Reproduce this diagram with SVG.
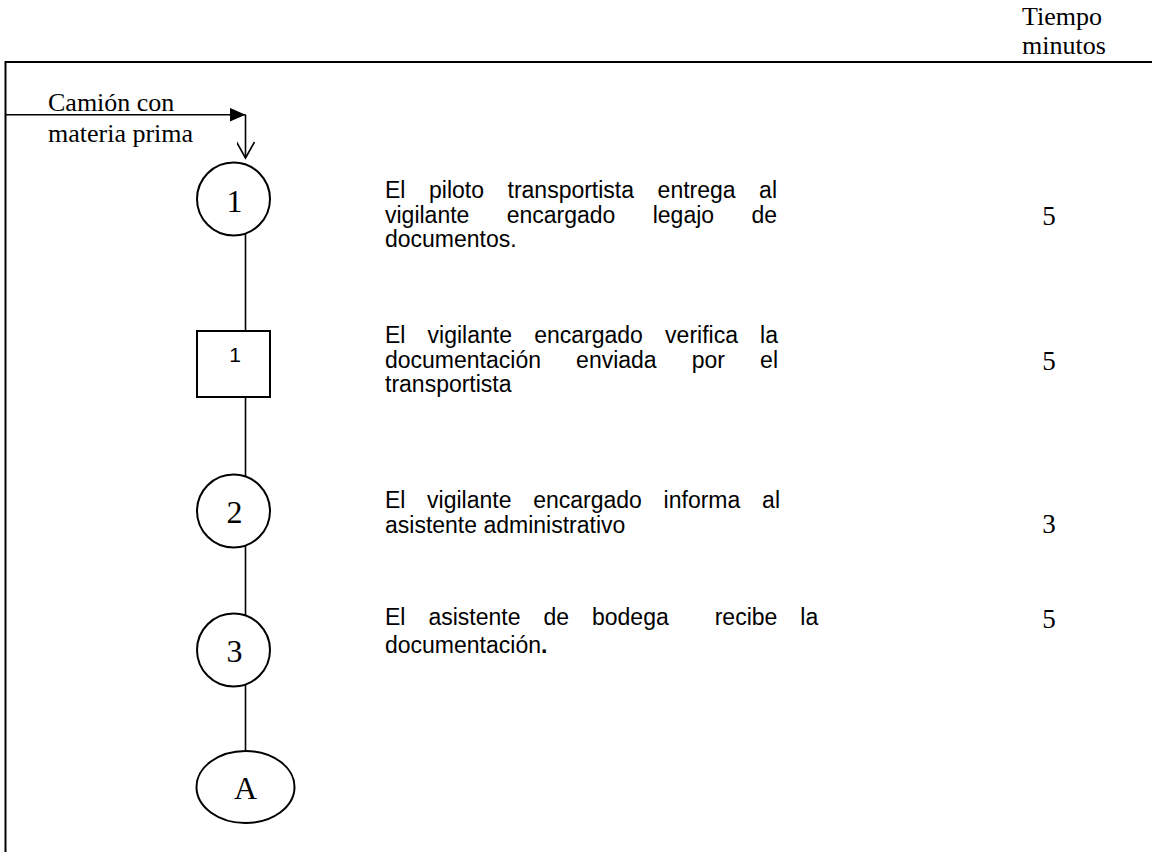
<svg xmlns="http://www.w3.org/2000/svg" width="1152" height="852" viewBox="0 0 1152 852">
  <style>
    .frame { fill: none; stroke: #000; stroke-width: 2; }
    .shape { fill: #fff; stroke: #000; stroke-width: 2; }
    .conn { fill: none; stroke: #000; stroke-width: 1.6; }
    .serif { font-family: "Liberation Serif", "Times New Roman", serif; fill: #000; }
    .lbl { font-size: 26px; }
    .num { font-size: 32px; text-anchor: middle; }
    .min { font-size: 27px; text-anchor: middle; }
    .desc { font-family: "Liberation Sans", Arial, sans-serif; font-size: 23px; fill: #000; }
    .sq { font-family: "Liberation Sans", Arial, sans-serif; font-size: 21px; fill: #000; text-anchor: middle; }
  </style>
  <defs>
    <marker id="solidHead" viewBox="0 0 16 14" refX="16" refY="7" markerWidth="16" markerHeight="14" markerUnits="userSpaceOnUse" orient="auto">
      <path d="M0,0 L16,7 L0,14 Z" fill="#000"/>
    </marker>
    <marker id="openHead" viewBox="0 0 20 18" refX="18" refY="9" markerWidth="20" markerHeight="18" markerUnits="userSpaceOnUse" orient="auto">
      <path d="M2,0 L18,9 L2,18" fill="none" stroke="#000" stroke-width="1.6"/>
    </marker>
  </defs>

  <rect width="1152" height="852" fill="#fff"/>

  <!-- page frame -->
  <path class="frame" d="M5.5,852 V62 H1152"/>

  <!-- column header -->
  <g id="header">
    <text class="serif lbl" x="1022" y="25">Tiempo</text>
    <text class="serif lbl" x="1022" y="54">minutos</text>
  </g>

  <!-- incoming material label -->
  <g id="entrada">
    <text class="serif lbl" x="48" y="111">Camión con</text>
    <text class="serif lbl" x="48" y="142">materia prima</text>
  </g>

  <!-- connectors -->
  <g id="connectors">
    <path class="conn" d="M5,114.7 H245.5" marker-end="url(#solidHead)"/>
    <path class="conn" d="M245.5,114.7 V158" marker-end="url(#openHead)"/>
    <line class="conn" x1="245.5" y1="233.6" x2="245.5" y2="331"/>
    <line class="conn" x1="245.5" y1="397" x2="245.5" y2="476.4"/>
    <line class="conn" x1="245.5" y1="545.6" x2="245.5" y2="615.4"/>
    <line class="conn" x1="245.5" y1="684.6" x2="245.5" y2="751"/>
  </g>

  <!-- operation 1 -->
  <g id="op1">
    <circle class="shape" cx="233.5" cy="199" r="36.5"/>
    <text class="serif num" x="234.5" y="212">1</text>
  </g>

  <!-- inspection 1 -->
  <g id="insp1">
    <rect class="shape" x="197" y="331" width="73" height="66"/>
    <text class="sq" x="235" y="362">1</text>
  </g>

  <!-- operation 2 -->
  <g id="op2">
    <circle class="shape" cx="233.5" cy="511" r="36.5"/>
    <text class="serif num" x="234.5" y="523">2</text>
  </g>

  <!-- operation 3 -->
  <g id="op3">
    <circle class="shape" cx="233.5" cy="650" r="36.5"/>
    <text class="serif num" x="234.5" y="662">3</text>
  </g>

  <!-- connector A -->
  <g id="conA">
    <ellipse class="shape" cx="245.5" cy="787" rx="49" ry="36"/>
    <text class="serif num" x="245.5" y="799">A</text>
  </g>

  <!-- step descriptions (justified word by word) -->
  <g id="desc1" class="desc">
    <text y="198"><tspan x="385">El</tspan><tspan x="429">piloto</tspan><tspan x="507.5">transportista</tspan><tspan x="657.6">entrega</tspan><tspan x="759.1">al</tspan></text>
    <text y="223"><tspan x="385">vigilante</tspan><tspan x="506.7">encargado</tspan><tspan x="652.7">legajo</tspan><tspan x="751.4">de</tspan></text>
    <text x="385" y="247">documentos.</text>
  </g>
  <g id="desc2" class="desc">
    <text y="343"><tspan x="385">El</tspan><tspan x="427.6">vigilante</tspan><tspan x="534.2">encargado</tspan><tspan x="665.1">verifica</tspan><tspan x="760.1">la</tspan></text>
    <text y="367.5"><tspan x="385">documentación</tspan><tspan x="576.1">enviada</tspan><tspan x="691.7">por</tspan><tspan x="760.1">el</tspan></text>
    <text x="385" y="392">transportista</text>
  </g>
  <g id="desc3" class="desc">
    <text y="508"><tspan x="385">El</tspan><tspan x="427.1">vigilante</tspan><tspan x="533.2">encargado</tspan><tspan x="663.6">informa</tspan><tspan x="762.1">al</tspan></text>
    <text x="385" y="532.5">asistente administrativo</text>
  </g>
  <g id="desc4" class="desc">
    <text y="625"><tspan x="385">El</tspan><tspan x="428.4">asistente</tspan><tspan x="543.4">de</tspan><tspan x="592">bodega</tspan><tspan x="714.7">recibe</tspan><tspan x="800.3">la</tspan></text>
    <text x="385" y="653">documentación<tspan font-weight="bold">.</tspan></text>
  </g>

  <!-- time per step -->
  <g id="tiempos" class="serif min">
    <text x="1049" y="225">5</text>
    <text x="1049" y="370">5</text>
    <text x="1049" y="533">3</text>
    <text x="1049" y="628">5</text>
  </g>
</svg>
